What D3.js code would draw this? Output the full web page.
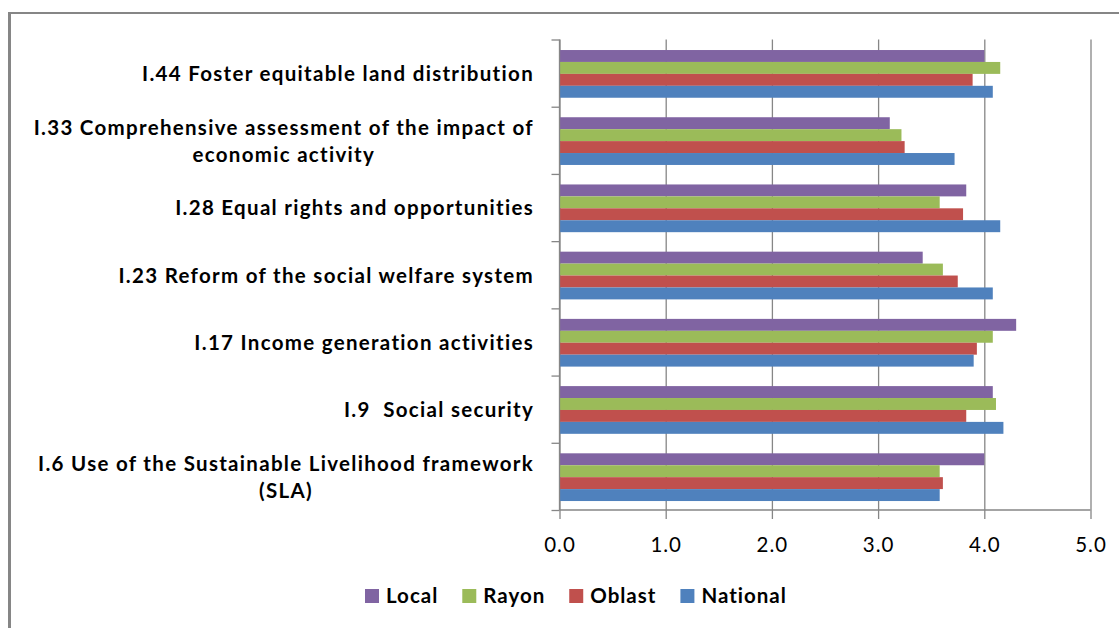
<!DOCTYPE html>
<html>
<head>
<meta charset="utf-8">
<script src="https://cdn.jsdelivr.net/npm/d3@7"></script>
<style>
  html, body { margin: 0; padding: 0; background: #fff; }
  svg { display: block; }
  text { font-family: Lato, "Open Sans", "DejaVu Sans", sans-serif; }
</style>
</head>
<body>
<svg id="chart" width="1119" height="628"></svg>
<script>
// Indicator categories, listed top to bottom (label lines)
const categories = [
  ["I.44 Foster equitable land distribution"],
  ["I.33 Comprehensive assessment of the impact of", "economic activity"],
  ["I.28 Equal rights and opportunities"],
  ["I.23 Reform of the social welfare system"],
  ["I.17 Income generation activities"],
  ["I.9  Social security"],
  ["I.6 Use of the Sustainable Livelihood framework", "(SLA)"]
];

// Series names, drawn top to bottom inside each category group
const seriesNames = ["Local", "Rayon", "Oblast", "National"];

// Mean scores per level, same order as categories
const local    = [4.00, 3.11, 3.83, 3.42, 4.30, 4.08, 4.00];
const rayon    = [4.15, 3.22, 3.58, 3.61, 4.08, 4.11, 3.58];
const oblast   = [3.89, 3.25, 3.80, 3.75, 3.93, 3.83, 3.61];
const national = [4.08, 3.72, 4.15, 4.08, 3.90, 4.18, 3.58];

const xTicks = [0, 1, 2, 3, 4, 5];

const seriesValues = [local, rayon, oblast, national];
const colors = ["#8064A2", "#9BBB59", "#C0504D", "#4F81BD"];

const svg = d3.select("#chart");
const gridColor = "#868686";

// Outer frame (left and top edges visible)
svg.append("line").attr("x1", 9.5).attr("x2", 9.5).attr("y1", 12).attr("y2", 628)
  .attr("stroke", gridColor).attr("stroke-width", 3);
svg.append("line").attr("x1", 8).attr("x2", 1119).attr("y1", 13).attr("y2", 13)
  .attr("stroke", gridColor).attr("stroke-width", 2);

const plot = { left: 559.5, right: 1090.5, top: 39.5, bottom: 510 };
const plotH = plot.bottom - plot.top;

const x = d3.scaleLinear().domain([0, 5]).range([plot.left, plot.right]);

const yBand = d3.scaleBand()
  .domain(d3.range(categories.length))
  .range([plot.top, plot.bottom])
  .paddingInner(0.29)
  .paddingOuter(0.145)
  .align(0.54);

const ySub = d3.scaleBand()
  .domain(d3.range(seriesNames.length))
  .range([0, yBand.bandwidth()]);

// Vertical gridlines + value labels
const xAxis = d3.axisBottom(x)
  .tickValues(xTicks)
  .tickSize(plotH + 9)
  .tickPadding(18)
  .tickFormat(d3.format(".1f"));

const gx = svg.append("g")
  .attr("transform", `translate(0,${plot.top})`)
  .call(xAxis);
gx.select(".domain").remove();
gx.selectAll(".tick line").attr("stroke", gridColor).attr("stroke-width", 1.3);
gx.selectAll(".tick text")
  .attr("fill", "#000")
  .style("font-size", "20.5px")
  .style("letter-spacing", "1px")
  .style("font-family", "Lato, 'Open Sans', sans-serif");

// Bars
const groups = svg.append("g").selectAll("g")
  .data(categories.map((c, i) => i))
  .join("g")
  .attr("transform", i => `translate(0,${yBand(i)})`);

groups.selectAll("rect")
  .data(i => seriesValues.map((s, k) => ({ k, v: s[i] })))
  .join("rect")
  .attr("x", x(0))
  .attr("y", d => ySub(d.k))
  .attr("width", d => x(d.v) - x(0))
  .attr("height", ySub.bandwidth())
  .attr("fill", d => colors[d.k]);

// Category axis (ticks between categories)
const yIdx = d3.scaleLinear().domain([0, categories.length]).range([plot.top, plot.bottom]);
const gy = svg.append("g")
  .attr("transform", `translate(${plot.left},0)`)
  .call(d3.axisLeft(yIdx).ticks(categories.length).tickSize(8).tickFormat(""));
gy.select(".domain").attr("stroke", gridColor).attr("stroke-width", 1.3)
  .attr("d", `M0,${plot.top}V${plot.bottom}`);
gy.selectAll(".tick line").attr("stroke", gridColor).attr("stroke-width", 1.3);

// Horizontal value axis line
svg.append("line")
  .attr("x1", plot.left).attr("x2", plot.right)
  .attr("y1", plot.bottom).attr("y2", plot.bottom)
  .attr("stroke", gridColor).attr("stroke-width", 1.3);

// Category labels: block right-aligned, wrapped lines centred
const labelRight = 534;
const lineH = 27;
categories.forEach((lines, i) => {
  const cy = yBand(i) + yBand.bandwidth() / 2;
  const g = svg.append("g");
  const texts = lines.map((t, j) => g.append("text")
    .attr("y", cy + (j - (lines.length - 1) / 2) * lineH)
    .attr("dy", "0.35em")
    .attr("font-weight", "bold")
    .style("font-size", "20.5px")
    .style("letter-spacing", "1.3px")
    .style("white-space", "pre")
    .attr("fill", "#000")
    .attr("text-anchor", "middle")
    .text(t));
  const widths = texts.map(t => t.node().getComputedTextLength());
  const maxW = d3.max(widths);
  const cx = labelRight - maxW / 2;
  texts.forEach(t => t.attr("x", cx));
});

// Legend
const legend = svg.append("g").attr("transform", "translate(365,589)");
let lx = 0;
seriesNames.forEach((name, k) => {
  legend.append("rect").attr("x", lx).attr("y", 0).attr("width", 14).attr("height", 14)
    .attr("fill", colors[k]);
  const t = legend.append("text")
    .attr("x", lx + 21).attr("y", 14)
    .attr("font-weight", "bold")
    .style("font-size", "20.5px")
    .style("letter-spacing", "1px")
    .attr("fill", "#000")
    .text(name);
  lx += 21 + t.node().getComputedTextLength() + 24;
});
</script>
</body>
</html>
